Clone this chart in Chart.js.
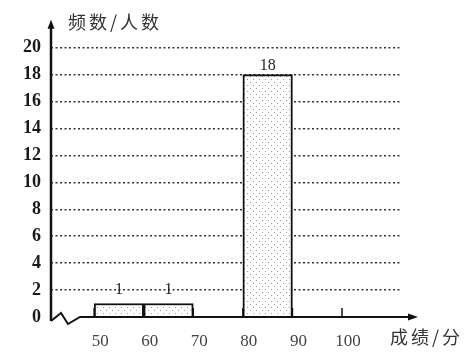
<!DOCTYPE html>
<html>
<head>
<meta charset="utf-8">
<script src="https://cdn.jsdelivr.net/npm/chart.js@4.4.1/dist/chart.umd.min.js"></script>
<style>
  body { margin: 0; background: #fff; }
  #wrap { width: 465px; height: 357px; }
</style>
</head>
<body>
<div id="wrap"><canvas id="hist" width="465" height="357"></canvas></div>
<script>
// histogram data
const binStarts = [50, 60, 80];
const binWidth = 10;
const counts = [1, 1, 18];
const xTicks = [50, 60, 70, 80, 90, 100];
const yTicks = [0, 2, 4, 6, 8, 10, 12, 14, 16, 18, 20];
const yTitle = '频数/人数';
const xTitle = '成绩/分';

// dotted fill like the printed bars
function dotPattern() {
  const c = document.createElement('canvas');
  c.width = 6; c.height = 6;
  const g = c.getContext('2d');
  g.fillStyle = '#fff';
  g.fillRect(0, 0, 6, 6);
  g.fillStyle = '#9a9a9a';
  g.fillRect(1, 1, 1, 1);
  g.fillRect(4, 4, 1, 1);
  return g.createPattern(c, 'repeat');
}

const decor = {
  id: 'decor',
  afterDraw(chart) {
    const ctx = chart.ctx;
    const a = chart.chartArea;
    const xs = chart.scales.x;
    const L = a.left, B = a.bottom;
    ctx.save();
    ctx.strokeStyle = '#111';
    ctx.fillStyle = '#111';

    // y axis + arrow
    ctx.lineWidth = 2.5;
    ctx.beginPath();
    ctx.moveTo(L, B + 4);
    ctx.lineTo(L, a.top + 4);
    ctx.stroke();
    ctx.beginPath();
    ctx.moveTo(L, a.top - 1);
    ctx.lineTo(L - 3.5, a.top + 8);
    ctx.lineTo(L + 3.5, a.top + 8);
    ctx.closePath();
    ctx.fill();

    // x axis with break mark + arrow
    ctx.lineWidth = 2;
    ctx.beginPath();
    ctx.moveTo(L, B + 4);
    ctx.lineTo(L + 10, B - 4);
    ctx.lineTo(L + 17, B + 7);
    ctx.lineTo(L + 29, B);
    ctx.lineTo(a.right + 10, B);
    ctx.stroke();
    ctx.beginPath();
    ctx.moveTo(a.right + 16, B);
    ctx.lineTo(a.right + 6, B - 3.5);
    ctx.lineTo(a.right + 6, B + 3.5);
    ctx.closePath();
    ctx.fill();

    // small tick marks
    ctx.lineWidth = 1.5;
    xTicks.forEach(v => {
      const px = xs.getPixelForValue(v);
      ctx.beginPath();
      ctx.moveTo(px, B);
      ctx.lineTo(px, B - 9);
      ctx.stroke();
    });

    // axis titles
    ctx.fillStyle = '#333';
    ctx.font = '18px "Noto Sans CJK SC"';
    ctx.letterSpacing = '3px';
    ctx.textBaseline = 'middle';
    ctx.textAlign = 'left';
    ctx.fillText(yTitle, L + 17, 22);
    ctx.fillText(xTitle, a.right - 12, B + 20);

    // counts above bars
    ctx.letterSpacing = '0px';
    ctx.fillStyle = '#222';
    ctx.font = '16px "Liberation Serif"';
    ctx.textAlign = 'center';
    ctx.textBaseline = 'bottom';
    const meta = chart.getDatasetMeta(0);
    meta.data.forEach((bar, i) => {
      ctx.fillText(String(counts[i]), bar.x, bar.y - (counts[i] < 5 ? 6 : 1));
    });
    ctx.restore();
  }
};

new Chart(document.getElementById('hist'), {
  type: 'bar',
  data: {
    datasets: [{
      label: yTitle,
      data: binStarts.map((s, i) => ({ x: s + binWidth / 2, y: counts[i] })),
      backgroundColor: dotPattern(),
      borderColor: '#111',
      borderWidth: 2,
      barPercentage: 1,
      categoryPercentage: 1
    }]
  },
  options: {
    responsive: false,
    animation: false,
    layout: { padding: { top: 18, right: 63, left: 0, bottom: 0 } },
    plugins: { legend: { display: false }, tooltip: { enabled: false } },
    scales: {
      x: {
        type: 'linear',
        offset: false,
        min: 41.3,
        max: 112.1,
        afterBuildTicks: s => { s.ticks = xTicks.map(v => ({ value: v })); },
        afterFit: s => { s.height = 40; },
        grid: { display: false },
        border: { display: false },
        ticks: {
          padding: 6,
          labelOffset: 6,
          color: '#444',
          font: { family: 'Liberation Serif', size: 17 },
          maxRotation: 0,
          autoSkip: false
        }
      },
      y: {
        min: 0,
        max: 22,
        afterBuildTicks: s => { s.ticks = yTicks.map(v => ({ value: v })); },
        afterFit: s => { s.width = 51; },
        border: { display: false, dash: [2, 2.5] },
        grid: {
          drawTicks: false,
          color: c => (c.tick && c.tick.value === 0) ? 'rgba(0,0,0,0)' : '#333',
          lineWidth: 1.5
        },
        ticks: {
          padding: 10,
          color: '#1a1a1a',
          font: { family: 'Liberation Serif', size: 18, weight: 'bold' }
        }
      }
    }
  },
  plugins: [decor]
});
</script>
</body>
</html>
